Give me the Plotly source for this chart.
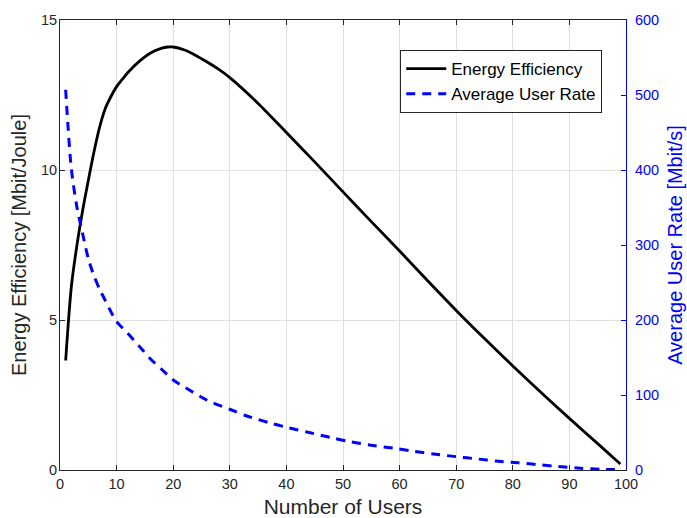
import plotly.graph_objects as go

# ---- data ----
users_ee = [1, 2, 3, 4, 5, 6, 7, 8, 9, 10, 11, 12, 14, 16, 18, 19, 20, 22, 24, 26, 28, 30,
            35, 40, 45, 50, 55, 60, 65, 70, 75, 80, 85, 90, 95, 99]
energy_eff = [3.65, 6.1, 7.5, 8.65, 9.65, 10.6, 11.43, 12.05, 12.45, 12.78, 13.02, 13.25,
              13.62, 13.9, 14.06, 14.1, 14.1, 14.0, 13.82, 13.6, 13.36, 13.08,
              12.22, 11.25, 10.27, 9.27, 8.28, 7.3, 6.3, 5.32, 4.38, 3.47, 2.58, 1.72, 0.88, 0.2]

users_rate = [1, 2, 3, 4, 5, 6, 7, 8, 10, 12, 14, 16, 18, 20, 23, 26, 30, 33, 37, 40, 44,
              48, 51, 55, 59, 62, 66, 70, 74, 77, 81, 85, 88, 92, 96, 99]
avg_rate = [507, 402, 350, 315, 282, 259, 241, 226, 198, 182, 165, 148, 134, 120, 106, 93,
            81, 72, 63, 57, 50, 43, 38, 33, 29, 25.5, 21.3, 17.8, 14.5, 12, 9.6, 6.7, 4.6,
            2.3, 0.9, 0.4]

x_ticks = [0, 10, 20, 30, 40, 50, 60, 70, 80, 90, 100]
left_ticks = [0, 5, 10, 15]
right_ticks = [0, 100, 200, 300, 400, 500, 600]

DARK = "#262626"
GRID = "#e0e0e0"
BLUE = "#0000ff"
FONT = "Liberation Sans, Arial, Helvetica, sans-serif"

fig = go.Figure()
fig.add_trace(go.Scatter(x=users_ee, y=energy_eff, mode="lines", name="Energy Efficiency",
                         line=dict(color="black", width=2.8, shape="spline", smoothing=0.8),
                         yaxis="y"))
fig.add_trace(go.Scatter(x=users_rate, y=avg_rate, mode="lines", name="Average User Rate",
                         line=dict(color=BLUE, width=3, dash="9px,7px", shape="spline",
                                   smoothing=0.8),
                         yaxis="y2"))

fig.update_layout(
    width=687, height=518,
    margin=dict(l=60, r=61, t=20, b=48),
    paper_bgcolor="white", plot_bgcolor="white",
    font=dict(family=FONT, color=DARK, size=14),
    showlegend=True,
    legend=dict(x=0.958, y=0.933, xanchor="right", yanchor="top",
                bgcolor="white", bordercolor=DARK, borderwidth=1,
                font=dict(size=17, color="black"), tracegroupgap=0, itemwidth=40),
    xaxis=dict(range=[0, 100], tickvals=x_ticks, ticks="inside", ticklen=5,
               tickcolor=DARK, showline=True, linecolor=DARK, linewidth=1,
               mirror="ticks", showgrid=True, gridcolor=GRID, zeroline=False,
               automargin=False, ticklabelstandoff=1,
               tickfont=dict(size=14.5, color=DARK),
               title=dict(text="Number of Users", font=dict(size=21, color=DARK), standoff=9)),
    yaxis=dict(range=[0, 15], tickvals=left_ticks, ticks="inside", ticklen=5,
               tickcolor=DARK, showline=True, linecolor=DARK, linewidth=1,
               showgrid=True, gridcolor=GRID, zeroline=False, automargin=False,
               ticklabelstandoff=-1,
               tickfont=dict(size=14.5, color=DARK),
               title=dict(text="Energy Efficiency [Mbit/Joule]", font=dict(size=20, color=DARK),
                          standoff=8)),
    yaxis2=dict(range=[0, 600], tickvals=right_ticks, overlaying="y", side="right",
                ticks="inside", ticklen=5, tickcolor=BLUE, showline=True,
                linecolor=BLUE, linewidth=1, showgrid=False, zeroline=False,
                automargin=False, ticklabelstandoff=5,
                tickfont=dict(size=14.5, color=BLUE),
                title=dict(text="Average User Rate [Mbit/s]", font=dict(size=20, color=BLUE),
                           standoff=9)),
)

fig.write_html("out.html", config={"displayModeBar": False},
               post_script="document.body.style.margin='0';")
